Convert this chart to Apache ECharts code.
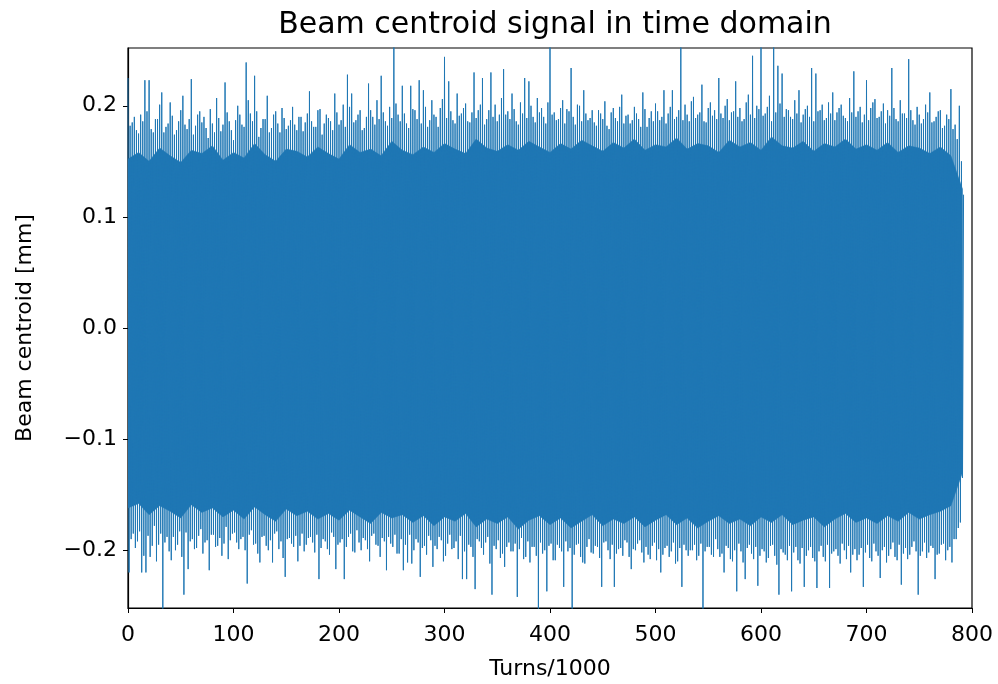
<!DOCTYPE html>
<html>
<head>
<meta charset="utf-8">
<script src="https://cdn.jsdelivr.net/npm/echarts@6/dist/echarts.min.js"></script>
<style>html,body{margin:0;padding:0;background:#fff}#c{width:998px;height:684px}</style>
</head>
<body>
<div id="c"></div>
<script>
// Each 4-turn block (turns/1000) holds: major upper peak, major lower peak, minor upper peak, minor lower peak
const blockTurns = 4;

// Major upper peaks [mm]
const upperPeaks = [
  0.225,0.185,0.178,0.192,0.223,0.223,0.176,0.188,0.212,0.181,
  0.203,0.174,0.186,0.209,0.179,0.224,0.182,0.195,0.190,0.171,
  0.184,0.207,0.177,0.221,0.186,0.169,0.200,0.183,0.239,0.193,
  0.227,0.172,0.188,0.209,0.180,0.195,0.176,0.189,0.182,0.199,
  0.178,0.190,0.185,0.213,0.181,0.196,0.174,0.192,0.186,0.211,
  0.183,0.201,0.228,0.211,0.187,0.196,0.180,0.220,0.190,0.205,
  0.227,0.186,0.199,0.255,0.192,0.218,0.184,0.218,0.196,0.223,
  0.214,0.181,0.205,0.190,0.198,0.244,0.222,0.187,0.211,0.193,
  0.202,0.185,0.230,0.196,0.225,0.188,0.230,0.201,0.192,0.233,
  0.195,0.211,0.186,0.203,0.225,0.222,0.190,0.207,0.198,0.184,
  0.255,0.194,0.188,0.205,0.197,0.234,0.183,0.200,0.214,0.187,
  0.196,0.182,0.193,0.204,0.179,0.198,0.186,0.210,0.191,0.184,
  0.199,0.188,0.212,0.181,0.195,0.202,0.187,0.214,0.193,0.214,
  0.190,0.255,0.201,0.186,0.208,0.192,0.219,0.185,0.203,0.196,
  0.225,0.189,0.206,0.194,0.222,0.198,0.188,0.210,0.245,0.200,
  0.255,0.193,0.209,0.255,0.236,0.229,0.197,0.190,0.205,0.214,
  0.192,0.200,0.234,0.229,0.196,0.187,0.203,0.212,0.194,0.201,
  0.189,0.207,0.231,0.195,0.185,0.223,0.198,0.206,0.190,0.202,
  0.196,0.234,0.188,0.205,0.193,0.242,0.187,0.199,0.184,0.201,
  0.212,0.186,0.195,0.180,0.192,0.215,0.183,0.200,0.120
];

// Major lower peaks [mm]
const lowerPeaks = [
  -0.220,-0.185,-0.192,-0.220,-0.220,-0.206,-0.178,-0.195,-0.260,-0.188,
  -0.209,-0.200,-0.183,-0.240,-0.217,-0.190,-0.198,-0.181,-0.193,-0.218,
  -0.186,-0.196,-0.205,-0.179,-0.191,-0.184,-0.199,-0.188,-0.230,-0.182,
  -0.194,-0.211,-0.187,-0.200,-0.211,-0.183,-0.192,-0.224,-0.189,-0.197,
  -0.210,-0.185,-0.195,-0.188,-0.202,-0.226,-0.190,-0.199,-0.184,-0.217,
  -0.193,-0.226,-0.188,-0.201,-0.182,-0.200,-0.191,-0.210,-0.185,-0.196,
  -0.189,-0.218,-0.194,-0.186,-0.203,-0.218,-0.211,-0.212,-0.190,-0.224,
  -0.196,-0.187,-0.215,-0.199,-0.191,-0.205,-0.186,-0.198,-0.208,-0.226,
  -0.226,-0.197,-0.235,-0.192,-0.204,-0.188,-0.240,-0.199,-0.207,-0.215,
  -0.193,-0.201,-0.242,-0.189,-0.206,-0.211,-0.197,-0.260,-0.203,-0.237,
  -0.194,-0.209,-0.198,-0.233,-0.201,-0.260,-0.195,-0.206,-0.212,-0.190,
  -0.203,-0.197,-0.233,-0.192,-0.208,-0.233,-0.199,-0.205,-0.193,-0.217,
  -0.200,-0.191,-0.211,-0.204,-0.196,-0.209,-0.220,-0.198,-0.206,-0.193,
  -0.210,-0.233,-0.200,-0.200,-0.195,-0.205,-0.260,-0.197,-0.204,-0.190,
  -0.206,-0.220,-0.198,-0.210,-0.237,-0.201,-0.226,-0.195,-0.208,-0.232,
  -0.199,-0.211,-0.196,-0.205,-0.240,-0.202,-0.209,-0.237,-0.197,-0.212,
  -0.233,-0.200,-0.207,-0.234,-0.196,-0.210,-0.234,-0.201,-0.205,-0.194,
  -0.208,-0.220,-0.199,-0.204,-0.233,-0.195,-0.210,-0.201,-0.225,-0.197,
  -0.205,-0.193,-0.209,-0.231,-0.198,-0.204,-0.192,-0.240,-0.201,-0.207,
  -0.196,-0.226,-0.203,-0.194,-0.200,-0.211,-0.190,-0.175
];

// Minor upper peaks [mm]
const upperMinor = [
  0.182,0.190,0.175,0.186,0.195,0.179,0.188,0.201,0.176,0.184,
  0.191,0.178,0.196,0.183,0.188,0.174,0.192,0.185,0.180,0.197,
  0.176,0.189,0.183,0.194,0.178,0.187,0.192,0.181,0.205,0.186,
  0.195,0.180,0.188,0.176,0.192,0.184,0.198,0.179,0.187,0.183,
  0.190,0.177,0.193,0.186,0.181,0.197,0.184,0.189,0.178,0.194,
  0.187,0.181,0.199,0.185,0.192,0.178,0.190,0.196,0.183,0.188,
  0.194,0.182,0.189,0.202,0.186,0.193,0.180,0.197,0.188,0.184,
  0.199,0.187,0.192,0.181,0.206,0.189,0.195,0.184,0.191,0.198,
  0.186,0.194,0.189,0.201,0.183,0.196,0.190,0.186,0.207,0.192,
  0.188,0.197,0.183,0.193,0.189,0.200,0.185,0.194,0.190,0.203,
  0.192,0.187,0.198,0.184,0.195,0.190,0.201,0.186,0.193,0.189,
  0.185,0.196,0.188,0.182,0.194,0.189,0.199,0.184,0.192,0.187,
  0.193,0.181,0.197,0.189,0.186,0.195,0.190,0.184,0.199,0.188,
  0.196,0.187,0.192,0.204,0.189,0.194,0.186,0.198,0.191,0.188,
  0.193,0.200,0.187,0.195,0.190,0.186,0.203,0.192,0.189,0.197,
  0.191,0.199,0.186,0.194,0.202,0.190,0.196,0.188,0.193,0.185,
  0.197,0.190,0.186,0.195,0.201,0.189,0.193,0.187,0.198,0.191,
  0.186,0.194,0.190,0.199,0.192,0.187,0.203,0.189,0.195,0.184,
  0.191,0.198,0.186,0.193,0.189,0.196,0.183,0.192,0.188,0.194,
  0.185,0.190,0.196,0.182,0.188,0.179,0.170,0.150
];

// Minor lower peaks [mm]
const lowerMinor = [
  -0.190,-0.198,-0.183,-0.205,-0.187,-0.196,-0.210,-0.185,-0.193,-0.201,
  -0.188,-0.195,-0.206,-0.184,-0.192,-0.199,-0.187,-0.203,-0.191,-0.186,
  -0.197,-0.189,-0.194,-0.208,-0.185,-0.193,-0.190,-0.200,-0.186,-0.195,
  -0.203,-0.188,-0.196,-0.191,-0.185,-0.199,-0.207,-0.190,-0.194,-0.187,
  -0.196,-0.201,-0.189,-0.193,-0.186,-0.198,-0.192,-0.204,-0.188,-0.195,
  -0.190,-0.197,-0.185,-0.202,-0.193,-0.189,-0.199,-0.187,-0.195,-0.206,
  -0.192,-0.188,-0.197,-0.203,-0.190,-0.195,-0.186,-0.200,-0.193,-0.198,
  -0.204,-0.191,-0.196,-0.188,-0.210,-0.194,-0.199,-0.192,-0.187,-0.201,
  -0.195,-0.206,-0.190,-0.198,-0.193,-0.212,-0.196,-0.191,-0.203,-0.197,
  -0.201,-0.194,-0.199,-0.208,-0.192,-0.197,-0.205,-0.193,-0.200,-0.196,
  -0.209,-0.195,-0.201,-0.192,-0.198,-0.204,-0.194,-0.211,-0.197,-0.202,
  -0.196,-0.207,-0.193,-0.200,-0.195,-0.203,-0.198,-0.191,-0.206,-0.199,
  -0.194,-0.202,-0.197,-0.208,-0.193,-0.199,-0.204,-0.196,-0.201,-0.212,
  -0.198,-0.195,-0.205,-0.200,-0.209,-0.194,-0.201,-0.197,-0.206,-0.199,
  -0.203,-0.196,-0.208,-0.200,-0.194,-0.211,-0.198,-0.203,-0.197,-0.205,
  -0.201,-0.207,-0.195,-0.213,-0.199,-0.204,-0.196,-0.202,-0.209,-0.198,
  -0.205,-0.197,-0.210,-0.201,-0.206,-0.195,-0.203,-0.199,-0.212,-0.200,
  -0.196,-0.204,-0.209,-0.198,-0.202,-0.207,-0.194,-0.205,-0.200,-0.211,
  -0.199,-0.206,-0.195,-0.203,-0.208,-0.197,-0.201,-0.205,-0.193,-0.202,
  -0.198,-0.204,-0.195,-0.209,-0.197,-0.190,-0.180,-0.135
];

// Dense core of the oscillation (ragged edge of the solid band), one value per 10 turns/1000, last at 791
const coreStep = 10;
const coreEnd = 791;
const coreUpper = [
  0.152,0.158,0.150,0.162,0.155,0.149,0.160,0.157,0.164,0.151,
  0.158,0.153,0.166,0.156,0.150,0.161,0.159,0.154,0.163,0.157,
  0.152,0.165,0.158,0.161,0.155,0.168,0.160,0.156,0.163,0.158,
  0.166,0.161,0.157,0.170,0.162,0.159,0.165,0.160,0.168,0.163,
  0.158,0.166,0.161,0.169,0.164,0.159,0.167,0.162,0.170,0.160,
  0.165,0.163,0.171,0.161,0.166,0.164,0.158,0.169,0.163,0.167,
  0.160,0.172,0.164,0.162,0.168,0.159,0.166,0.163,0.170,0.161,
  0.165,0.160,0.167,0.158,0.164,0.162,0.157,0.163,0.155,0.125
];
const coreLower = [
  -0.162,-0.158,-0.168,-0.160,-0.165,-0.171,-0.159,-0.166,-0.162,-0.170,
  -0.164,-0.172,-0.161,-0.168,-0.174,-0.163,-0.169,-0.165,-0.172,-0.167,
  -0.173,-0.164,-0.170,-0.176,-0.166,-0.171,-0.168,-0.175,-0.169,-0.178,
  -0.170,-0.174,-0.167,-0.179,-0.172,-0.176,-0.170,-0.181,-0.173,-0.169,
  -0.177,-0.171,-0.180,-0.174,-0.168,-0.178,-0.172,-0.176,-0.170,-0.179,
  -0.173,-0.168,-0.177,-0.171,-0.180,-0.174,-0.169,-0.176,-0.172,-0.178,
  -0.170,-0.175,-0.168,-0.177,-0.173,-0.170,-0.179,-0.172,-0.167,-0.175,
  -0.171,-0.176,-0.169,-0.174,-0.166,-0.172,-0.168,-0.165,-0.160,-0.130
];

const xTicks = [0,100,200,300,400,500,600,700,800];
const yTicks = [-0.2,-0.1,0.0,0.1,0.2];

const signal = [];
for (let i = 0; i < upperPeaks.length; i++) {
  const t = i * blockTurns;
  signal.push([t, upperPeaks[i]]);
  if (i < lowerPeaks.length) signal.push([t + 1, lowerPeaks[i]]);
  if (i < upperMinor.length) signal.push([t + 2, upperMinor[i]]);
  if (i < lowerMinor.length) signal.push([t + 3, lowerMinor[i]]);
}
const coreX = coreUpper.map((_, i) => (i === coreUpper.length - 1 ? coreEnd : i * coreStep));
const coreData = coreX.map((x, i) => [x, coreUpper[i], coreLower[i]]);

const FONT = 'DejaVu Sans';
const BLUE = '#1f77b4';
const fmtY = v => (v < 0 ? '\u2212' : '') + Math.abs(v).toFixed(1);

function renderCore(params, api) {
  if (params.dataIndex !== 0) return null;
  const pts = [];
  for (let i = 0; i < coreData.length; i++) pts.push(api.coord([coreData[i][0], coreData[i][1]]));
  for (let i = coreData.length - 1; i >= 0; i--) pts.push(api.coord([coreData[i][0], coreData[i][2]]));
  return {type: 'polygon', shape: {points: pts}, style: {fill: BLUE, stroke: BLUE, lineWidth: 0.5}};
}

const chart = echarts.init(document.getElementById('c'), null, {renderer: 'canvas'});
chart.setOption({
  animation: false,
  backgroundColor: '#fff',
  title: {
    text: 'Beam centroid signal in time domain',
    left: 550, top: 5, textAlign: 'center',
    textStyle: {fontFamily: FONT, fontSize: 30, fontWeight: 'normal', color: '#000'}
  },
  grid: {left: 128, right: 26, top: 48, bottom: 76, outerBoundsMode: 'none', containLabel: false,
         show: true, borderColor: '#000', borderWidth: 1.2, backgroundColor: 'transparent'},
  xAxis: {
    type: 'value', min: 0, max: 800, interval: 100,
    name: 'Turns/1000', nameLocation: 'middle', nameGap: 50,
    nameTextStyle: {fontFamily: FONT, fontSize: 22, color: '#000'},
    axisLine: {show: true, onZero: false, lineStyle: {color: '#000', width: 1.2}},
    axisTick: {show: true, length: 5, lineStyle: {color: '#000', width: 1}},
    axisLabel: {fontFamily: FONT, fontSize: 22, color: '#000', margin: 16, customValues: xTicks},
    splitLine: {show: false}
  },
  yAxis: {
    type: 'value', min: -0.252, max: 0.252,
    name: 'Beam centroid [mm]', nameLocation: 'middle', nameGap: 92, nameRotate: 90,
    nameTextStyle: {fontFamily: FONT, fontSize: 22, color: '#000'},
    axisLine: {show: true, onZero: false, lineStyle: {color: '#000', width: 1.2}},
    axisTick: {show: true, length: 5, lineStyle: {color: '#000', width: 1}, customValues: yTicks},
    axisLabel: {fontFamily: FONT, fontSize: 22, color: '#000', margin: 11, formatter: fmtY, customValues: yTicks},
    splitLine: {show: false}
  },
  series: [
    {type: 'custom', data: coreData, encode: {x: 0, y: [1, 2]}, renderItem: renderCore, clip: true, silent: true, z: 1},
    {type: 'line', data: signal, showSymbol: false, sampling: 'none', clip: true,
     lineStyle: {color: BLUE, width: 1, join: 'bevel'}, silent: true, z: 2}
  ]
});
</script>
</body>
</html>
